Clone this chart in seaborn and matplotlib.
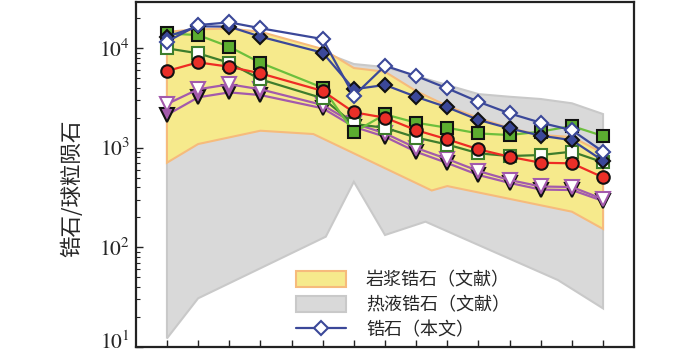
import numpy as np
import pandas as pd
import matplotlib
matplotlib.use("Agg")
import matplotlib.pyplot as plt
import matplotlib.transforms as mtransforms
from matplotlib.ticker import FixedLocator, FuncFormatter, LogLocator, NullFormatter
import seaborn as sns

# chondrite-normalised REE, x = element index (Pm has no data)
elements = ["La", "Ce", "Pr", "Nd", "Pm", "Sm", "Eu", "Gd", "Tb", "Dy", "Ho", "Er", "Tm", "Yb", "Lu"]
nan = np.nan

zr_open_diamond = [11600, 17000, 18100, 15800, nan, 12300, 3320, 6640, 5240, 3940, 2890, 2210, 1780, 1500, 912]
zr_filled_diamond = [13000, 16500, 16400, 13000, nan, 8970, 3860, 4260, 3240, 2540, 1900, 1560, 1320, 1190, 740]
zr_filled_square = [14000, 13500, 10300, 7110, nan, 4000, 1430, 2160, 1780, 1585, 1390, 1340, 1450, 1650, 1310]
zr_open_square = [9930, 8850, 7110, 4850, nan, 3130, 1730, 1585, 1265, 1075, 878, 825, 844, 912, 713]
zr_circle = [5880, 7180, 6490, 5570, nan, 3710, 2265, 2000, 1500, 1213, 963, 811, 706, 697, 504]
zr_open_tri = [2740, 3855, 4325, 3855, nan, 2680, 1755, 1393, 993, 770, 583, 474, 408, 403, 305]
zr_filled_tri = [2130, 3200, 3590, 3375, nan, 2485, 1622, 1288, 910, 701, 532, 443, 380, 376, 292]

# literature fields
magma_upper_x = [0, 1, 2, 3, 5, 6, 7, 8, 9, 10, 11, 12, 13, 14]
magma_upper = [14560, 15400, 15700, 14560, 9770, 6300, 5780, 3700, 2620, 1985, 1575, 1340, 1280, 884]
magma_lower_x = [0, 1, 3, 4.7, 8.5, 9, 13, 14]
magma_lower = [707, 1088, 1480, 1371, 372, 412, 228, 153]

hydro_upper_x = list(range(15))
hydro_upper = [5120, 6010, 7070, 7940, 7760, 9120, 6910, 6440, 5240, 4250, 3450, 3245, 3080, 2790, 2175]
hydro_lower_x = [0, 1, 5.1, 6, 7, 8.3, 12.55, 14]
hydro_lower = [12.2, 30.8, 128, 455, 133, 181, 47, 24.4]

sns.set_theme(style="ticks")
plt.rcParams['font.family'] = ['Noto Sans CJK SC', 'DejaVu Sans']
plt.rcParams['mathtext.fontset'] = 'stix'

fig = plt.figure(figsize=(7, 3.55), dpi=100)
ax = fig.add_axes([0.194, 0.0225, 0.712, 0.972])
ax.set_yscale('log')

# fields as polygons
hx = hydro_upper_x + hydro_lower_x[::-1]
hy = hydro_upper + hydro_lower[::-1]
ax.fill(hx, hy, facecolor='#d9d9d9', edgecolor='#c9c9c9', linewidth=1.5,
        label='热液锆石（文献）', zorder=1)
mx = magma_upper_x + magma_lower_x[::-1]
my = magma_upper + magma_lower[::-1]
ax.fill(mx, my, facecolor='#f6ea8c', edgecolor='#f6bb7c', linewidth=1.5,
        label='岩浆锆石（文献）', zorder=2)

x = np.arange(len(elements))
styles = [
    (zr_filled_tri, 'v', 10, '#a35aac', '#a35aac', '#111111'),
    (zr_open_tri, 'v', 10, '#a35aac', 'white', '#a35aac'),
    (zr_open_square, 's', 8.5, '#3e7d2c', 'white', '#3e7d2c'),
    (zr_filled_square, 's', 8.5, '#6cbf3c', '#5cad30', '#111111'),
    (zr_circle, 'o', 9, '#ee2b24', '#ea2f28', '#111111'),
    (zr_filled_diamond, 'D', 7, '#3b4899', '#3b4899', '#111111'),
    (zr_open_diamond, 'D', 7, '#3b4899', 'white', '#3b4899'),
]
for i, (vals, mk, ms, lc, fc, ec) in enumerate(styles):
    df = pd.DataFrame({'x': x, 'y': vals}).dropna()
    lab = '锆石（本文）' if vals is zr_open_diamond else None
    sns.lineplot(data=df, x='x', y='y', ax=ax, color=lc, linewidth=1.6,
                 marker=mk, markersize=ms, markerfacecolor=fc,
                 markeredgecolor=ec, markeredgewidth=1.5, label=lab,
                 legend=False, zorder=3 + i)

ax.set_xlim(-1, 15)
ax.set_ylim(10, 2.9e4)
ax.xaxis.set_major_locator(FixedLocator(x))
ax.set_xticklabels([])
ax.yaxis.set_major_locator(FixedLocator([10, 100, 1000, 10000]))
ax.yaxis.set_minor_locator(LogLocator(base=10, subs=np.arange(2, 10), numticks=20))
ax.yaxis.set_minor_formatter(NullFormatter())
ax.yaxis.set_major_formatter(FuncFormatter(lambda v, p: r'$10^{%d}$' % round(np.log10(v))))
ax.tick_params(axis='both', which='major', direction='in', length=5, width=1,
               labelsize=15.5, color='#222222', pad=4)
ax.tick_params(axis='y', which='minor', direction='in', length=3, width=0.8, color='#222222')
ax.set_xlabel('')
ax.set_ylabel('锆石/球粒陨石', fontsize=15.5)
ax.yaxis.set_label_coords(-0.105, 0.46)
for s in ax.spines.values():
    s.set_linewidth(1.6)
    s.set_color('#222222')

h, l = ax.get_legend_handles_labels()
order = [l.index('岩浆锆石（文献）'), l.index('热液锆石（文献）'), l.index('锆石（本文）')]
ax.legend([h[k] for k in order], [l[k] for k in order], loc='lower left',
          bbox_to_anchor=(0.288, -0.024), frameon=False, fontsize=13,
          handlelength=2.8, handleheight=1.0, labelspacing=0.38, handletextpad=1.1)

# lift the bottom tick label a little so it stays inside the figure
fig.canvas.draw()
lift = mtransforms.ScaledTranslation(0, 5 / 72, fig.dpi_scale_trans)
for tk in ax.yaxis.get_major_ticks():
    if np.isclose(tk.get_loc(), 10):
        tk.label1.set_transform(tk.label1.get_transform() + lift)

fig.savefig('out.png', dpi=100)
